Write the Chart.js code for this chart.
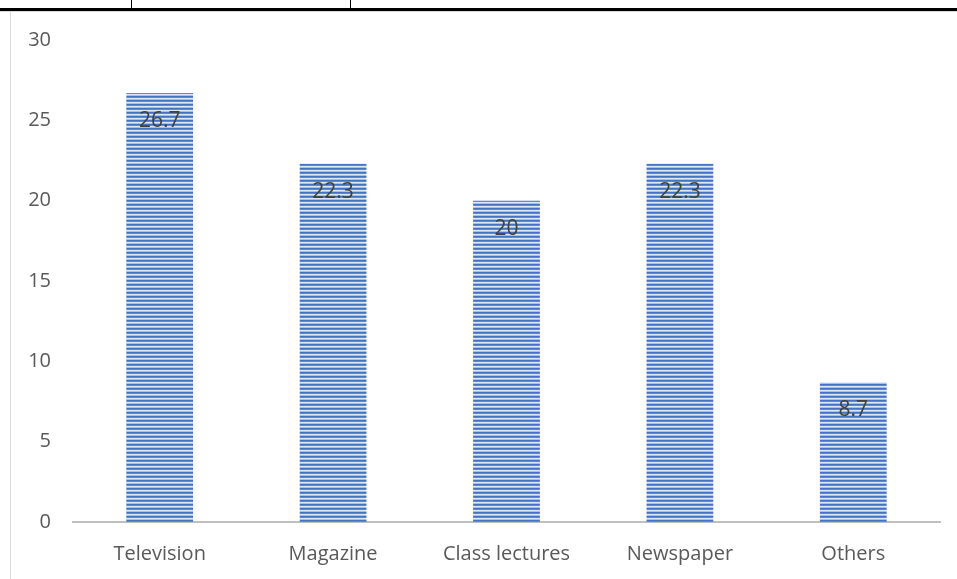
<!DOCTYPE html>
<html>
<head>
<meta charset="utf-8">
<script src="https://cdn.jsdelivr.net/npm/chart.js@4/dist/chart.umd.min.js"></script>
<style>
  html, body { margin: 0; padding: 0; background: #ffffff; }
  #wrap { position: relative; width: 957px; height: 579px; overflow: hidden; }
  #c { position: absolute; left: 0; top: 0; }
  .deco { position: absolute; }
</style>
</head>
<body>
<div id="wrap">
  <canvas id="c" width="957" height="579"></canvas>
  <div class="deco" style="left:0;top:8px;width:957px;height:3px;background:#000;"></div>
  <div class="deco" style="left:131px;top:0;width:1px;height:9px;background:#000;"></div>
  <div class="deco" style="left:350px;top:0;width:1px;height:9px;background:#000;"></div>
  <div class="deco" style="left:0;top:11px;width:957px;height:1px;background:#d9d9d9;"></div>
  <div class="deco" style="left:10px;top:11px;width:1px;height:568px;background:#d9d9d9;"></div>
</div>
<script>
const categories = ["Television", "Magazine", "Class lectures", "Newspaper", "Others"];
const values = [26.7, 22.3, 20, 22.3, 8.7];
const yTicks = [0, 5, 10, 15, 20, 25, 30];

function stripePattern(ctx) {
  const p = document.createElement('canvas');
  p.width = 4; p.height = 4;
  const g = p.getContext('2d');
  const rows = ['#4472c4', '#5f88d0', '#dfe7f5', '#a9bfe6'];
  rows.forEach((c, i) => { g.fillStyle = c; g.fillRect(0, i, 4, 1); });
  return ctx.createPattern(p, 'repeat');
}

const labelPlugin = {
  id: 'valueLabels',
  afterDatasetsDraw(chart) {
    const ctx = chart.ctx;
    const meta = chart.getDatasetMeta(0);
    ctx.save();
    ctx.font = '21px "Open Sans"';
    ctx.fillStyle = '#404040';
    ctx.textAlign = 'center';
    ctx.textBaseline = 'middle';
    meta.data.forEach((bar, i) => {
      ctx.fillText(String(values[i]), bar.x, bar.y + 28);
    });
    ctx.restore();
  }
};

const canvas = document.getElementById('c');
const ctx = canvas.getContext('2d');

new Chart(ctx, {
  type: 'bar',
  data: {
    labels: categories,
    datasets: [{
      data: values,
      backgroundColor: stripePattern(ctx),
      borderWidth: 0,
      categoryPercentage: 1.0,
      barPercentage: 0.385
    }]
  },
  options: {
    responsive: false,
    animation: false,
    devicePixelRatio: 1,
    layout: { padding: { left: 10, right: 17, top: 40, bottom: 4 } },
    plugins: { legend: { display: false }, tooltip: { enabled: false } },
    scales: {
      x: {
        grid: { display: false, drawTicks: false },
        border: { display: true, color: '#bfbfbf', width: 2 },
        ticks: { color: '#595959', font: { family: 'Open Sans', size: 20 }, padding: 20 },
        afterFit(s) { s.height = 53; }
      },
      y: {
        min: 0, max: 30,
        afterBuildTicks(s) { s.ticks = yTicks.map(v => ({ value: v })); },
        grid: { display: false, drawTicks: false },
        border: { display: false },
        ticks: { color: '#595959', font: { family: 'Open Sans', size: 20 }, padding: 22, align: 'center' },
        afterFit(s) { s.width = 63; }
      }
    }
  },
  plugins: [labelPlugin]
});
</script>
</body>
</html>
